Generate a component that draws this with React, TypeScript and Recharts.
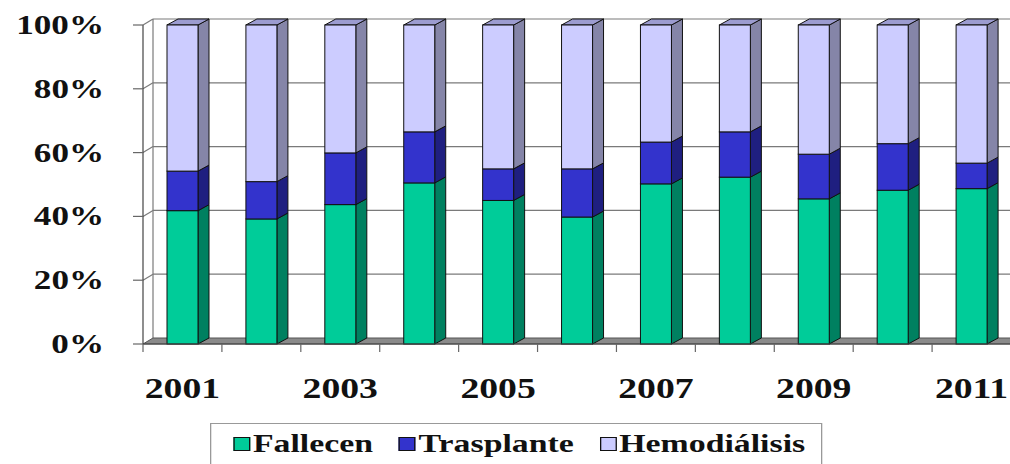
import { BarChart, Bar, XAxis, YAxis, CartesianGrid } from 'recharts'

// shares per year (percent)
const years = ['2001', '2002', '2003', '2004', '2005', '2006', '2007', '2008', '2009', '2010', '2011']
const fallecen = [41.8, 39.2, 43.7, 50.5, 45.0, 39.8, 50.2, 52.3, 45.5, 48.2, 48.7]
const trasplante = [12.4, 11.7, 16.2, 16.0, 9.9, 15.1, 13.1, 14.2, 14.0, 14.6, 8.0]
const hemodialisis = [45.8, 49.1, 40.1, 33.5, 45.1, 45.1, 36.7, 33.5, 40.5, 37.2, 43.3]
const yTicks = [0, 20, 40, 60, 80, 100]

const data = years.map((year, i) => ({
  year,
  fallecen: fallecen[i],
  trasplante: trasplante[i],
  hemodialisis: hemodialisis[i],
}))

const FONT = "'Liberation Serif', 'DejaVu Serif', serif"
const STRETCH = 1.3 // the source image is stretched horizontally

const CHART_W = 1021
const CHART_H = 464
const AXIS_W = 143
const MARGIN_TOP = 25
const MARGIN_RIGHT = 10
const X_AXIS_H = 120
const PLOT_W = CHART_W - AXIS_W - MARGIN_RIGHT
const BAND = PLOT_W / years.length

// 3D depth
const WALL_DX = 10
const WALL_DY = 6
const BAR_DX = 11
const BAR_DY = 6

const SERIES = [
  { key: 'fallecen', name: 'Fallecen', front: '#00cc99', side: '#008060', top: '#00a87e' },
  { key: 'trasplante', name: 'Trasplante', front: '#3333cc', side: '#1f1f80', top: '#2828a0' },
  { key: 'hemodialisis', name: 'Hemodiálisis', front: '#ccccff', side: '#8585a8', top: '#9c9cd0' },
]

function makeBarShape(front: string, side: string, top: string, withTop: boolean) {
  return (props: any) => {
    const { x, y, width, height } = props
    if (height == null || width == null) return <g />
    const r = x + width
    const b = y + height
    return (
      <g>
        <polygon
          points={`${r},${y} ${r + BAR_DX},${y - BAR_DY} ${r + BAR_DX},${b - BAR_DY} ${r},${b}`}
          fill={side}
          stroke="#111"
          strokeWidth={1}
          strokeLinejoin="round"
        />
        {withTop && (
          <polygon
            points={`${x},${y} ${x + BAR_DX},${y - BAR_DY} ${r + BAR_DX},${y - BAR_DY} ${r},${y}`}
            fill={top}
            stroke="#111"
            strokeWidth={1}
            strokeLinejoin="round"
          />
        )}
        <rect x={x} y={y} width={width} height={height} fill={front} stroke="#111" strokeWidth={1} />
      </g>
    )
  }
}

// back wall gridlines, left wall diagonals and the floor
function WallLine(props: any) {
  const { x1, x2, y1, x, y, height, index } = props
  const bottom = y + height
  const isFloor = Math.abs(y1 - bottom) < 0.5
  return (
    <g key={`wall-${index}`}>
      {index === 0 && (
        <line x1={x + WALL_DX} y1={y - WALL_DY} x2={x + WALL_DX} y2={bottom - WALL_DY} stroke="#7a7a7a" strokeWidth={1.2} />
      )}
      {isFloor ? (
        <polygon
          points={`${x1},${y1} ${x1 + WALL_DX},${y1 - WALL_DY} ${x2 + WALL_DX},${y1 - WALL_DY} ${x2},${y1}`}
          fill="#8a8a8a"
          stroke="#555"
          strokeWidth={1}
        />
      ) : (
        <g>
          <line x1={x1} y1={y1} x2={x1 + WALL_DX} y2={y1 - WALL_DY} stroke="#7a7a7a" strokeWidth={1.2} />
          <line x1={x1 + WALL_DX} y1={y1 - WALL_DY} x2={x2 + WALL_DX} y2={y1 - WALL_DY} stroke="#7a7a7a" strokeWidth={1.2} />
        </g>
      )}
    </g>
  )
}

function YearTick(props: any) {
  const { x, y, payload, index } = props
  const left = x - BAND / 2
  return (
    <g>
      <line x1={left} y1={y} x2={left} y2={y + 8} stroke="#666" strokeWidth={1.2} />
      {index === years.length - 1 && (
        <line x1={left + BAND} y1={y} x2={left + BAND} y2={y + 8} stroke="#666" strokeWidth={1.2} />
      )}
      {index % 2 === 0 && (
        <g transform={`translate(${x},${y + 54}) scale(${STRETCH},1)`}>
          <text textAnchor="middle" fontFamily={FONT} fontWeight="bold" fontSize={29} fill="#111">
            {payload.value}
          </text>
        </g>
      )}
    </g>
  )
}

function PercentTick(props: any) {
  const { x, y, payload } = props
  return (
    <g>
      <line x1={x - 10} y1={y} x2={x} y2={y} stroke="#666" strokeWidth={1.2} />
      <g transform={`translate(${x - 39},${y + 9}) scale(${STRETCH},1)`}>
        <text textAnchor="end" fontFamily={FONT} fontWeight="bold" fontSize={27} fill="#111">
          {payload.value}%
        </text>
      </g>
    </g>
  )
}

function LegendBox() {
  return (
    <div
      style={{
        position: 'absolute',
        left: 210,
        top: 423,
        width: 612 / STRETCH,
        height: 60,
        border: '1px solid #999',
        boxSizing: 'border-box',
        transform: `scaleX(${STRETCH})`,
        transformOrigin: 'left top',
        display: 'flex',
        alignItems: 'flex-start',
        paddingLeft: 17,
        paddingTop: 5,
        fontFamily: FONT,
        fontWeight: 'bold',
        fontSize: 26,
        color: '#111',
        lineHeight: '30px',
      }}
    >
      {SERIES.map((s) => (
        <div key={s.key} style={{ display: 'flex', alignItems: 'center', marginRight: 20 }}>
          <span
            style={{
              width: 13,
              height: 14,
              background: s.front,
              border: '1px solid #111',
              boxSizing: 'border-box',
              marginRight: 2,
              display: 'inline-block',
            }}
          />
          <span>{s.name}</span>
        </div>
      ))}
    </div>
  )
}

export default function App() {
  return (
    <div
      style={{
        position: 'fixed',
        left: 0,
        top: 0,
        width: 1010,
        height: 464,
        overflow: 'hidden',
        background: '#fff',
      }}
    >
      <BarChart
        width={CHART_W}
        height={CHART_H}
        data={data}
        margin={{ top: MARGIN_TOP, right: MARGIN_RIGHT, left: 0, bottom: 0 }}
        barSize={31}
      >
        <CartesianGrid vertical={false} horizontal={WallLine} />
        <XAxis
          dataKey="year"
          height={X_AXIS_H}
          interval={0}
          tickSize={0}
          tickMargin={0}
          tickLine={false}
          axisLine={{ stroke: '#444', strokeWidth: 1.2 }}
          tick={YearTick}
        />
        <YAxis
          width={AXIS_W}
          domain={[0, 100]}
          ticks={yTicks}
          interval={0}
          tickSize={0}
          tickMargin={0}
          tickLine={false}
          axisLine={{ stroke: '#444', strokeWidth: 1.2 }}
          tick={PercentTick}
        />
        {SERIES.map((s, i) => (
          <Bar
            key={s.key}
            dataKey={s.key}
            name={s.name}
            stackId="a"
            isAnimationActive={false}
            shape={makeBarShape(s.front, s.side, s.top, i === SERIES.length - 1)}
          />
        ))}
      </BarChart>
      <LegendBox />
    </div>
  )
}
